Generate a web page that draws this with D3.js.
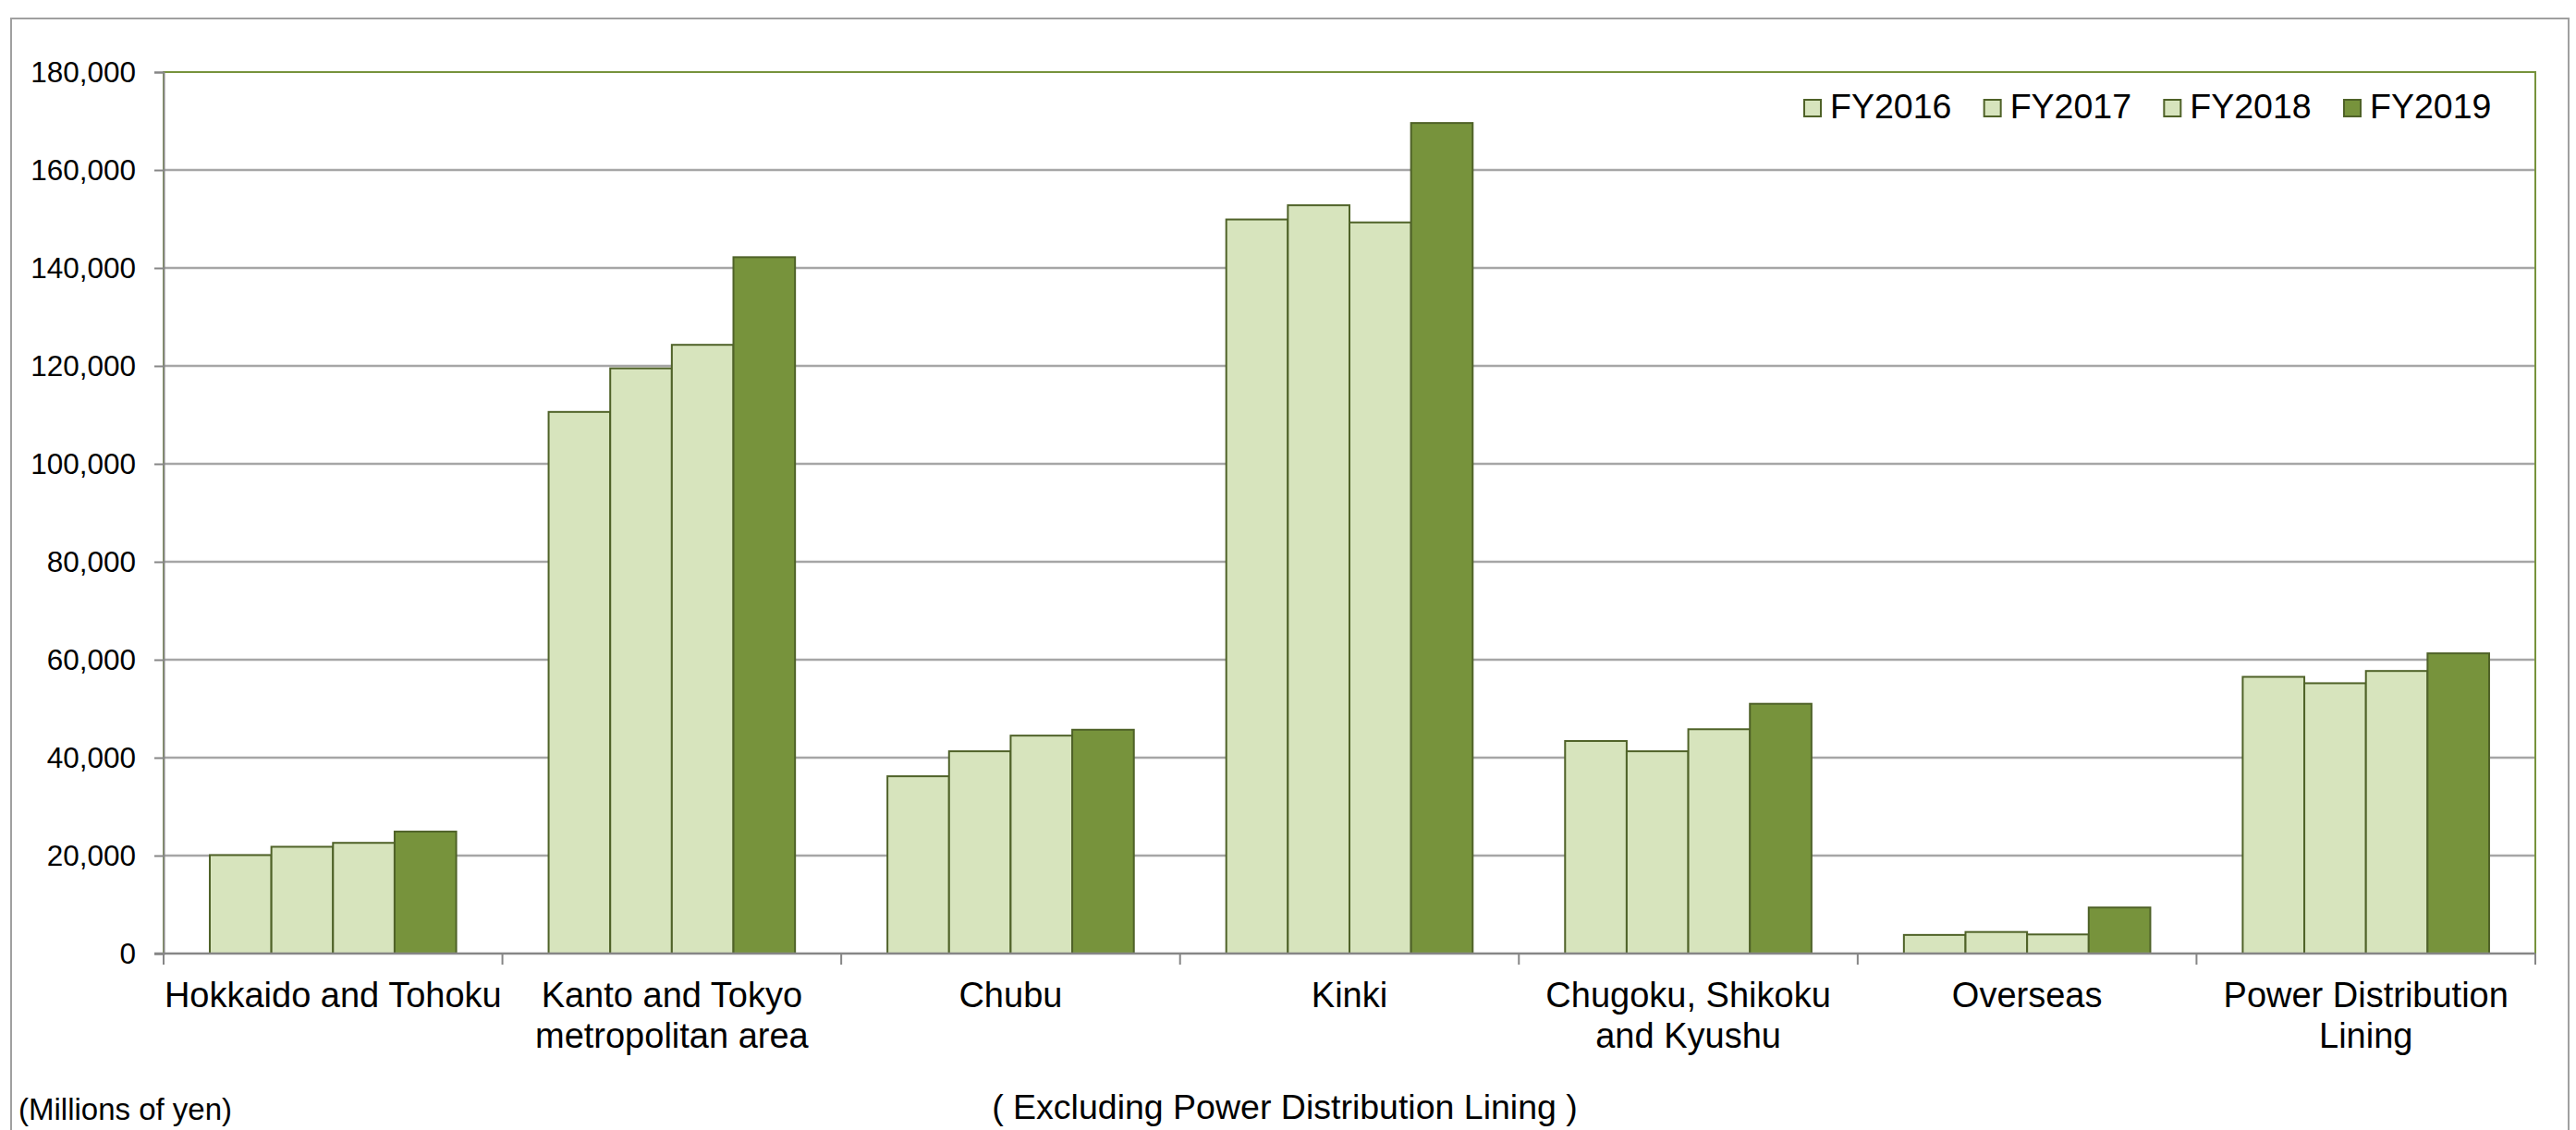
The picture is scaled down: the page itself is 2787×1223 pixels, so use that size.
<!DOCTYPE html>
<html>
<head>
<meta charset="utf-8">
<script src="https://cdn.jsdelivr.net/npm/d3@7"></script>
<style>
  html, body { margin: 0; padding: 0; background: #fff; }
  svg { display: block; }
  text { font-family: "Liberation Sans", Arial, sans-serif; fill: #000; }
</style>
</head>
<body>
<svg id="chart" width="2787" height="1223"></svg>
<script>
// ---- Data ----
const categories = ["Hokkaido and Tohoku", "Kanto and Tokyo metropolitan area", "Chubu", "Kinki",
  "Chugoku, Shikoku and Kyushu", "Overseas", "Power Distribution Lining"];
const categoryLabelLines = [
  ["Hokkaido and Tohoku"],
  ["Kanto and Tokyo", "metropolitan area"],
  ["Chubu"],
  ["Kinki"],
  ["Chugoku, Shikoku", "and Kyushu"],
  ["Overseas"],
  ["Power Distribution", "Lining"]
];
const seriesNames = ["FY2016", "FY2017", "FY2018", "FY2019"];
const fy2016 = [20100, 110600, 36200, 149900, 43400, 3800, 56500];
const fy2017 = [21800, 119500, 41300, 152800, 41300, 4400, 55200];
const fy2018 = [22600, 124300, 44500, 149300, 45800, 3900, 57700];
const fy2019 = [24900, 142200, 45700, 169600, 51000, 9400, 61300];
const yTicks = [0, 20000, 40000, 60000, 80000, 100000, 120000, 140000, 160000, 180000];
const unitLabel = "(Millions of yen)";
const noteLabel = "( Excluding Power Distribution Lining )";

const seriesValues = [fy2016, fy2017, fy2018, fy2019];
const seriesFill = ["#D7E4BD", "#D7E4BD", "#D7E4BD", "#77933C"];
const barStroke = "#4F6228";

// ---- Layout ----
const svg = d3.select("#chart");
const plot = { left: 177, right: 2743, top: 78, bottom: 1032 };

// Outer frame
svg.append("rect")
  .attr("x", 12).attr("y", 20)
  .attr("width", 2779 - 12).attr("height", 1260)
  .attr("fill", "none").attr("stroke", "#A0A0A0").attr("stroke-width", 2);

const x0 = d3.scaleBand().domain(categories).range([plot.left, plot.right]).paddingInner(0).paddingOuter(0);
const x1 = d3.scaleBand().domain(seriesNames).range([0, x0.bandwidth()]).paddingInner(0).paddingOuter(0.75);
const y = d3.scaleLinear().domain([0, 180000]).range([plot.bottom, plot.top]);

// Gridlines
svg.append("g").selectAll("line")
  .data(yTicks.filter(t => t > 0 && t < 180000))
  .join("line")
  .attr("x1", plot.left).attr("x2", plot.right)
  .attr("y1", d => y(d)).attr("y2", d => y(d))
  .attr("stroke", "#A6A6A6").attr("stroke-width", 2.5);

// Plot area border (green, top & right)
svg.append("rect")
  .attr("x", plot.left).attr("y", plot.top)
  .attr("width", plot.right - plot.left).attr("height", plot.bottom - plot.top)
  .attr("fill", "none").attr("stroke", "#77933C").attr("stroke-width", 2);

// Bars
const groups = svg.append("g").selectAll("g")
  .data(categories)
  .join("g")
  .attr("transform", d => `translate(${x0(d)},0)`);

groups.selectAll("rect")
  .data((c, ci) => seriesNames.map((s, si) => ({ s, si, v: seriesValues[si][ci] })))
  .join("rect")
  .attr("x", d => x1(d.s))
  .attr("width", x1.bandwidth())
  .attr("y", d => y(d.v))
  .attr("height", d => y(0) - y(d.v))
  .attr("fill", d => seriesFill[d.si])
  .attr("stroke", barStroke)
  .attr("stroke-width", 2);

// Y axis
const yAxis = d3.axisLeft(y).tickValues(yTicks).tickSize(10).tickPadding(20)
  .tickFormat(d3.format(","));
const gy = svg.append("g").attr("transform", `translate(${plot.left},0)`).call(yAxis);
gy.select(".domain").attr("stroke", "#868686").attr("stroke-width", 2);
gy.selectAll(".tick line").attr("stroke", "#868686").attr("stroke-width", 2);
gy.selectAll(".tick text")
  .style("font-family", '"Liberation Sans", Arial, sans-serif')
  .style("font-size", "31.5px").attr("fill", "#000");

// X axis baseline
svg.append("line")
  .attr("x1", plot.left - 10).attr("x2", plot.right)
  .attr("y1", y(0)).attr("y2", y(0))
  .attr("stroke", "#868686").attr("stroke-width", 2.5);

// Category boundary ticks
const boundaries = categories.map(c => x0(c)).concat([x0(categories[categories.length - 1]) + x0.bandwidth()]);
svg.append("g").selectAll("line")
  .data(boundaries)
  .join("line")
  .attr("x1", d => d).attr("x2", d => d)
  .attr("y1", y(0)).attr("y2", y(0) + 12)
  .attr("stroke", "#868686").attr("stroke-width", 2);

// Category labels
const labels = svg.append("g").selectAll("text")
  .data(categories)
  .join("text")
  .attr("text-anchor", "middle")
  .style("font-size", "38px")
  .attr("x", d => x0(d) + x0.bandwidth() / 2)
  .attr("y", 1090);
labels.selectAll("tspan")
  .data((d, i) => categoryLabelLines[i])
  .join("tspan")
  .attr("x", function () { return this.parentNode.getAttribute("x"); })
  .attr("dy", (d, i) => i === 0 ? 0 : 44)
  .text(d => d);

// Legend
const legendX = d3.scalePoint().domain(seriesNames).range([1952, 2536]);
const leg = svg.append("g").selectAll("g")
  .data(seriesNames)
  .join("g")
  .attr("transform", d => `translate(${legendX(d)},0)`);
leg.append("rect")
  .attr("x", 0).attr("y", 108).attr("width", 18).attr("height", 18)
  .attr("fill", (d, i) => seriesFill[i]).attr("stroke", barStroke).attr("stroke-width", 2);
leg.append("text")
  .attr("x", 28).attr("y", 128)
  .style("font-size", "37.5px")
  .text(d => d);

// Footnotes
svg.append("text")
  .attr("x", 20).attr("y", 1212)
  .style("font-size", "33px")
  .text(unitLabel);
svg.append("text")
  .attr("x", 1390).attr("y", 1211)
  .attr("text-anchor", "middle")
  .style("font-size", "37.5px")
  .text(noteLabel);
</script>
</body>
</html>
